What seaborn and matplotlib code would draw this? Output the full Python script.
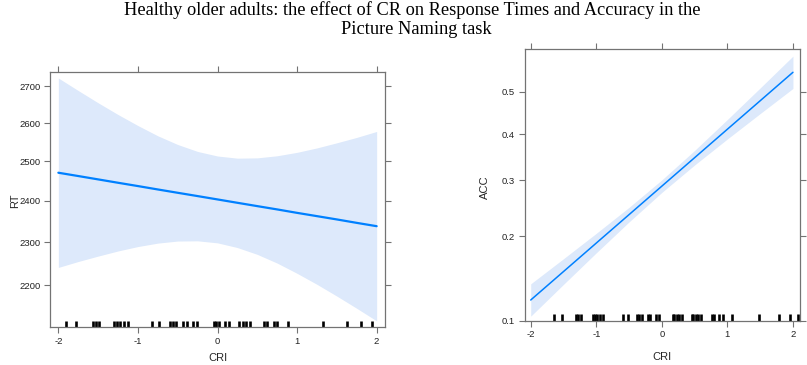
import matplotlib
matplotlib.use("Agg")
import matplotlib.pyplot as plt
from matplotlib.ticker import NullLocator, FixedLocator, FixedFormatter
import seaborn as sns
import pandas as pd

# ---------------- data ----------------
title_line1 = "Healthy older adults: the effect of CR on Response Times and Accuracy in the"
title_line2 = "Picture Naming task"

# Left panel: RT effect of CRI (log scale)
rt_x = [-2.0, -1.75, -1.5, -1.25, -1.0, -0.75, -0.5, -0.25, 0.0,
        0.25, 0.5, 0.75, 1.0, 1.25, 1.5, 1.75, 2.0]
rt_fit = [2470.5, 2462.1, 2453.6, 2445.1, 2436.8, 2428.3, 2420.0, 2411.8, 2403.5,
          2395.2, 2387.0, 2378.9, 2370.5, 2362.5, 2354.5, 2346.2, 2338.2]
rt_upper = [2723.5, 2688.6, 2654.9, 2623.0, 2593.4, 2566.2, 2543.3, 2525.2, 2513.4,
            2507.8, 2508.6, 2514.0, 2522.9, 2534.4, 2547.8, 2562.0, 2577.7]
rt_lower = [2241.0, 2254.7, 2267.3, 2279.3, 2289.7, 2297.8, 2302.7, 2303.2, 2298.4,
            2287.3, 2271.3, 2251.0, 2227.4, 2202.3, 2175.8, 2148.6, 2121.0]
rt_rug = [-1.908, -1.783, -1.566, -1.524, -1.483, -1.303, -1.262, -1.220, -1.178, -1.128,
          -0.824, -0.740, -0.603, -0.561, -0.519, -0.428, -0.386, -0.302, -0.252,
          -0.044, -0.019, 0.019, 0.094, 0.144, 0.273, 0.315, 0.357, 0.407,
          0.582, 0.624, 0.707, 0.749, 0.886, 1.324, 1.625, 1.804, 1.937]
rt_yticks = [2200, 2300, 2400, 2500, 2600, 2700]

# Right panel: ACC effect of CRI (logit scale)
acc_x = [-2.0, -1.5, -1.0, -0.5, 0.0, 0.5, 1.0, 1.5, 2.0]
acc_fit = [0.11962, 0.15144, 0.18993, 0.23545, 0.28802, 0.34700, 0.41109, 0.47831, 0.54636]
acc_upper = [0.13693, 0.16793, 0.20471, 0.24825, 0.30048, 0.36297, 0.43384, 0.50900, 0.58441]
acc_lower = [0.10424, 0.13633, 0.17599, 0.22311, 0.27588, 0.33134, 0.38870, 0.44780, 0.50777]
acc_rug = [-1.643, -1.521, -1.312, -1.276, -1.236, -1.057, -1.022, -0.986, -0.945, -0.904,
           -0.599, -0.512, -0.385, -0.344, -0.303, -0.217, -0.181, -0.089, -0.048,
           0.166, 0.191, 0.227, 0.268, 0.313, 0.456, 0.482, 0.522, 0.558, 0.594,
           0.762, 0.798, 0.879, 0.930, 1.068, 1.485, 1.781, 1.949, 2.076]
acc_yticks = [0.1, 0.2, 0.3, 0.4, 0.5]

x_ticks = [-2, -1, 0, 1, 2]
x_label = "CRI"

# ---------------- style ----------------
sns.set_theme(style="white")
plt.rcParams["font.family"] = ["Liberation Sans", "DejaVu Sans"]
plt.rcParams["axes.unicode_minus"] = False

LINE = "#0080ff"
BAND = "#dde9fb"
FRAME = "#737373"

fig = plt.figure(figsize=(8.07, 3.65), dpi=100)
ax1 = fig.add_axes([0.06196, 0.10274, 0.41512, 0.70082])
ax2 = fig.add_axes([0.64994, 0.12055, 0.34077, 0.74438])

rt_df = pd.DataFrame({"CRI": rt_x, "RT": rt_fit})
acc_df = pd.DataFrame({"CRI": acc_x, "ACC": acc_fit})


def style_axes(ax):
    for s in ax.spines.values():
        s.set_color(FRAME)
        s.set_linewidth(0.9)
    ax.tick_params(axis="both", which="major", direction="out", length=4.3, width=0.8,
                   color=FRAME, labelsize=6.8, labelcolor="#222222",
                   top=True, right=True, bottom=True, left=True,
                   labeltop=False, labelright=False, pad=2.5)
    ax.set_xticks(x_ticks)
    ax.set_xticklabels([str(t) for t in x_ticks])


# Left panel
ax1.set_yscale("log")
ax1.fill_between(rt_x, rt_lower, rt_upper, color=BAND, linewidth=0)
sns.lineplot(data=rt_df, x="CRI", y="RT", ax=ax1, color=LINE, linewidth=1.6)
sns.rugplot(x=rt_rug, ax=ax1, height=0.027, color="black", linewidth=1.9,
            expand_margins=False)
ax1.set_xlim(-2.105, 2.105)
ax1.set_ylim(2106.6, 2741.3)
ax1.yaxis.set_major_locator(FixedLocator(rt_yticks))
ax1.yaxis.set_major_formatter(FixedFormatter([str(t) for t in rt_yticks]))
ax1.yaxis.set_minor_locator(NullLocator())
style_axes(ax1)
ax1.set_xlabel(x_label, fontsize=8, va="center")
ax1.set_ylabel("RT", fontsize=8, va="center")
ax1.xaxis.set_label_coords(0.5006, -0.119)
ax1.yaxis.set_label_coords(-0.1045, 0.496)

# Right panel
ax2.set_yscale("logit")
ax2.fill_between(acc_x, acc_lower, acc_upper, color=BAND, linewidth=0)
sns.lineplot(data=acc_df, x="CRI", y="ACC", ax=ax2, color=LINE, linewidth=1.1)
sns.rugplot(x=acc_rug, ax=ax2, height=0.027, color="black", linewidth=1.9,
            expand_margins=False)
ax2.set_xlim(-2.095, 2.1)
ax2.set_ylim(0.1, 0.6002)
ax2.yaxis.set_major_locator(FixedLocator(acc_yticks))
ax2.yaxis.set_major_formatter(FixedFormatter([str(t) for t in acc_yticks]))
ax2.yaxis.set_minor_locator(NullLocator())
style_axes(ax2)
ax2.set_xlabel(x_label, fontsize=8, va="center")
ax2.set_ylabel("ACC", fontsize=8, va="center")
ax2.xaxis.set_label_coords(0.499, -0.131)
ax2.yaxis.set_label_coords(-0.1436, 0.494)

# Title
fig.text(412 / 807, 1 - 15 / 365, title_line1, ha="center", va="baseline",
         fontsize=13.2, family=["Liberation Serif", "DejaVu Serif"], color="black")
fig.text(416 / 807, 1 - 33.5 / 365, title_line2, ha="center", va="baseline",
         fontsize=13.2, family=["Liberation Serif", "DejaVu Serif"], color="black")

fig.savefig("out.png", dpi=100)
